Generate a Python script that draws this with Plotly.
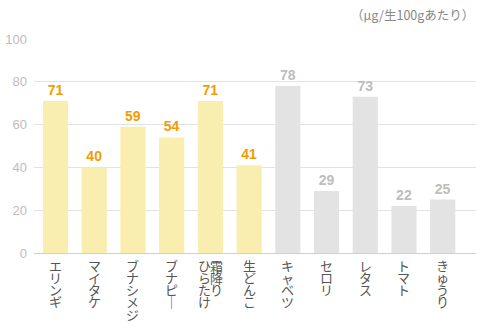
import plotly.graph_objects as go

categories = ["エリンギ", "マイタケ", "ブナシメジ", "ブナピー", "霜降り\nひらたけ", "生どんこ",
              "キャベツ", "セロリ", "レタス", "トマト", "きゅうり"]
values = [71, 40, 59, 54, 71, 41, 78, 29, 73, 22, 25]
is_mushroom = [True] * 6 + [False] * 5
y_ticks = [0, 20, 40, 60, 80, 100]
unit_label = "（μg/生100gあたり）"

FONT = "Noto Sans CJK JP, Noto Sans, sans-serif"
bar_colors = ["#f9edb0" if m else "#e3e3e3" for m in is_mushroom]
text_colors = ["#f39c00" if m else "#bdbdbd" for m in is_mushroom]

x = list(range(len(categories)))
fig = go.Figure(go.Bar(
    x=x, y=values, width=0.65,
    marker=dict(color=bar_colors, line=dict(width=0)),
    text=[f"<b>{v}</b>" for v in values], textposition="outside",
    textfont=dict(family="Liberation Sans, Arial, sans-serif", size=14, color=text_colors),
    cliponaxis=False, hoverinfo="skip",
))

annotations = []
for i, lab in enumerate(categories):
    cols = lab.split("\n")
    n = len(cols)
    for j, col in enumerate(cols):
        # vertical writing: first column on the right
        xs = (n - 1) * 6 - j * 12
        for k, ch in enumerate(col):
            if ch == "ー":
                ch = "｜"
            annotations.append(dict(
                x=i, y=0, xref="x", yref="y", text=ch, showarrow=False,
                xanchor="center", yanchor="middle", xshift=xs, yshift=-12 - k * 12.3,
                borderpad=0,
                font=dict(family=FONT, size=13, color="#555555"),
            ))
annotations.append(dict(
    x=1, y=1, xref="paper", yref="paper", xanchor="right", yanchor="top",
    text=unit_label, showarrow=False, xshift=0, yshift=36,
    font=dict(family=FONT, size=12.5, color="#888888"),
))

fig.update_layout(
    width=477, height=326,
    margin=dict(l=34, r=1, t=39, b=73),
    paper_bgcolor="white", plot_bgcolor="white",
    showlegend=False, annotations=annotations,
    xaxis=dict(range=[-0.556, 10.86], showticklabels=False, showgrid=False,
               zeroline=False, showline=False, fixedrange=True),
    yaxis=dict(range=[0, 100], tickvals=y_ticks, showgrid=True, gridcolor="#e2e2e2",
               gridwidth=1, zeroline=True, zerolinecolor="#d0d0d0", zerolinewidth=1,
               tickfont=dict(family="Liberation Sans, Arial, sans-serif", size=13, color="#bdbdbd"),
               ticks="", ticklabelstandoff=6, showline=False, fixedrange=True),
)

fig.write_html("out.html")
